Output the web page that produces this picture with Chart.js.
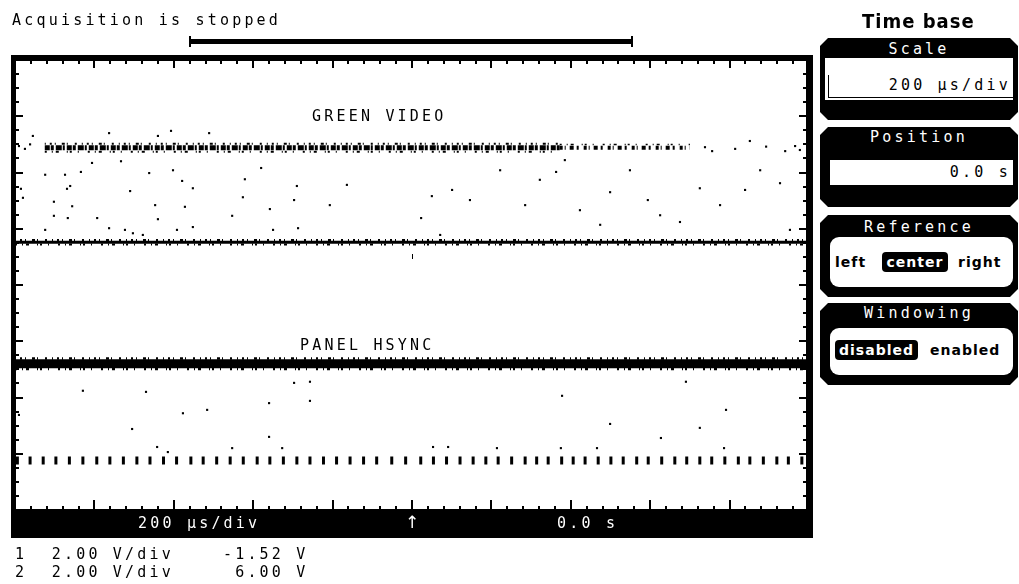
<!DOCTYPE html>
<html>
<head>
<meta charset="utf-8">
<script src="https://cdn.jsdelivr.net/npm/chart.js@4.4.1/dist/chart.umd.min.js"></script>
<style>
  html, body { margin: 0; padding: 0; background: #fff; }
  #scope { position: relative; width: 1019px; height: 584px; overflow: hidden; }
  #scope canvas { position: absolute; left: 0; top: 0; }
  .t { position: absolute; font: 15px "DejaVu Sans Mono", monospace; letter-spacing: 3.2px; line-height: 16px; white-space: pre; color: #000; }
  .w { color: #fff; }
  .bar { position: absolute; background: #000; }
  .box { position: absolute; left: 820px; width: 198px; background: #000;
    clip-path: polygon(8px 0, calc(100% - 8px) 0, 100% 8px, 100% calc(100% - 8px), calc(100% - 8px) 100%, 8px 100%, 0 calc(100% - 8px), 0 8px); }
  .box .ttl { position: absolute; left: 0; right: 0; text-align: center; color: #fff; }
  .inner { position: absolute; background: #fff; }
  .opt { position: absolute; font: bold 14px "DejaVu Sans", sans-serif; letter-spacing: 1px; line-height: 20px; white-space: pre; color: #000; }
  .pill { background: #000; color: #fff; border-radius: 4px; text-align: center; }
  .title { position: absolute; left: 862px; top: 9px; font: bold 20px "DejaVu Sans Condensed", "DejaVu Sans", sans-serif; letter-spacing: 1px; line-height: 24px; }
  .arrow { position: absolute; left: 405px; top: 512px; font: 17px "DejaVu Sans", sans-serif; line-height: 20px; color: #fff; }
</style>
</head>
<body>
<div id="scope">
  <canvas id="chart" width="1019" height="584"></canvas>

  <div class="t" style="left:12px; top:12px;">Acquisition is stopped</div>
  <div class="bar" style="left:190px; top:39px; width:442px; height:5px;"></div>
  <div class="bar" style="left:189px; top:36px; width:2px; height:11px;"></div>
  <div class="bar" style="left:631px; top:36px; width:2px; height:11px;"></div>

  <div class="t" style="left:312px; top:108px;">GREEN VIDEO</div>
  <div class="t" style="left:300px; top:337px;">PANEL HSYNC</div>

  <div class="t w" style="left:138px; top:515px;">200 µs/div</div>
  <div class="arrow">↑</div>
  <div class="t w" style="left:557px; top:515px;">0.0 s</div>

  <div class="t" style="left:15px; top:546px;">1  2.00 V/div    -1.52 V</div>
  <div class="t" style="left:15px; top:564px;">2  2.00 V/div     6.00 V</div>

  <div class="title">Time base</div>

  <div class="box" style="top:38px; height:82px;">
    <div class="t ttl" style="top:3px;">Scale</div>
    <div class="inner" style="left:5px; top:20px; width:188px; height:42px;"></div>
    <div style="position:absolute; left:8px; top:37px; width:185px; height:22px; border-left:1px solid #000; border-bottom:1px solid #000;"></div>
    <div class="t" style="right:7px; top:39px;">200 µs/div</div>
  </div>

  <div class="box" style="top:127px; height:80px;">
    <div class="t ttl" style="top:2px;">Position</div>
    <div class="inner" style="left:10px; top:33px; width:183px; height:25px;"></div>
    <div class="t" style="right:7px; top:37px;">0.0 s</div>
  </div>

  <div class="box" style="top:215px; height:82px;">
    <div class="t ttl" style="top:4px;">Reference</div>
    <div class="inner" style="left:10px; top:22px; width:183px; height:50px; border-radius:9px;"></div>
    <div class="opt" style="left:15px; top:37px;">left</div>
    <div class="opt pill" style="left:62px; top:37px; width:66px; height:20px;">center</div>
    <div class="opt" style="left:138px; top:37px;">right</div>
  </div>

  <div class="box" style="top:303px; height:82px;">
    <div class="t ttl" style="top:2px;">Windowing</div>
    <div class="inner" style="left:10px; top:25px; width:183px; height:47px; border-radius:9px;"></div>
    <div class="opt pill" style="left:15px; top:37px; width:83px; height:20px;">disabled</div>
    <div class="opt" style="left:110px; top:37px;">enabled</div>
  </div>
</div>

<script>
// time axis: 200 us/div, 10 divisions, centred on 0.0 s; level axis in divisions
const timeRangeUs = [-1000, 1000];
const levelRangeDiv = [-4, 4];

// channel 1: GREEN VIDEO
const greenHighLevel = 2.44;
const greenHighDenseUs = [-925, 372];
const greenHighBrokenUs = [372, 700];
const greenHighSparse = [[738, 2.45], [756, 2.38], [814, 2.42], [851, 2.56], [892, 2.46], [940, 2.38], [965, 2.47], [977, 2.40], [-990, 2.47], [-975, 2.42], [-962, 2.50]];
const greenLowLevel = 0.76;
const greenDots = [
  [-955, 2.65], [-763, 2.70], [-640, 2.65], [-607, 2.74], [-511, 2.70], [-924, 1.96], [-874, 1.96],
  [-834, 2.01], [-806, 2.17], [-733, 2.20], [-662, 1.99], [-602, 2.04], [-579, 1.85], [-552, 1.72],
  [-710, 1.67], [-861, 1.76], [-869, 1.71], [-985, 1.71], [-980, 1.55], [-902, 1.48], [-856, 1.40],
  [-647, 1.42], [-572, 1.39], [-426, 1.56], [-421, 1.88], [-380, 2.08], [-358, 1.35], [-297, 1.51],
  [-290, 1.76], [-902, 1.23], [-867, 1.19], [-793, 1.19], [-640, 1.17], [-453, 1.23], [-924, 0.98],
  [-763, 1.01], [-723, 0.98], [-703, 0.92], [-678, 0.89], [-592, 0.98], [-552, 1.03], [-350, 0.98],
  [-287, 1.01], [-207, 1.42], [-164, 1.78], [23, 1.19], [50, 1.58], [101, 1.69], [146, 1.51],
  [222, 2.04], [285, 1.42], [322, 1.87], [363, 2.01], [423, 1.33], [474, 1.07], [499, 1.65],
  [549, 2.04], [594, 1.51], [625, 1.24], [675, 1.12], [725, 1.72], [776, 1.42], [839, 1.69],
  [877, 2.04], [927, 1.81], [952, 0.98], [385, 2.22], [71, 0.89]
];

// channel 2: PANEL HSYNC
const hsyncLevel = -1.40;
const hsyncPulseLevel = -3.12;
const hsyncPulseUs = [
  -994, -962, -929, -897, -863, -829, -794, -761, -727, -693, -660, -626, -593, -557, -526,
  -492, -458, -425, -390, -358, -324, -290, -257, -223, -190, -156, -122, -89, -51, -16,
  22, 54, 87, 121, 154, 186, 217, 251, 285, 314, 343, 377, 406, 436, 469, 501, 532, 566,
  595, 629, 662, 692, 725, 755, 788, 822, 851, 885, 919, 948, 982
];
const hsyncDots = [
  [-829, -1.88], [-670, -1.90], [-360, -2.10], [-257, -2.06], [-577, -2.28], [-516, -2.22],
  [-705, -2.56], [-360, -2.70], [-642, -2.88], [-615, -2.97], [-453, -2.90], [-327, -2.90],
  [-297, -1.74], [-257, -1.72], [-990, -2.31], [378, -1.97], [690, -1.72], [791, -2.22],
  [499, -2.47], [725, -2.54], [627, -2.72], [53, -2.88], [91, -2.88], [214, -2.90],
  [375, -2.90], [466, -2.90], [786, -2.90]
];

const pts = list => list.map(([x, y]) => ({ x, y }));
const level = (range, y) => [{ x: range[0], y }, { x: range[1], y }];

// uneven dash patterns give the noisy edge of a persistence trace
const speckleA = [1, 4, 2, 3, 1, 6, 3, 2, 1, 7, 2, 5];
const speckleB = [2, 5, 1, 3, 3, 8, 1, 2, 2, 6, 1, 9];

function trace(data, width, dash) {
  return {
    data, showLine: true, pointRadius: 0, borderColor: '#000', borderWidth: width,
    borderDash: dash || [], borderCapStyle: 'butt', tension: 0
  };
}
function dots(data) {
  return {
    data, showLine: false, pointStyle: 'rect', pointRadius: 1.5, pointBorderWidth: 0,
    pointBackgroundColor: '#000'
  };
}

const datasets = [
  trace(level(greenHighDenseUs, greenHighLevel), 5, [5, 1, 3, 2, 6, 1, 2, 2]),
  trace(level(greenHighDenseUs, greenHighLevel + 0.07), 2, speckleA),
  trace(level(greenHighDenseUs, greenHighLevel - 0.07), 2, speckleB),
  trace(level(greenHighBrokenUs, greenHighLevel), 4, [3, 2, 1, 4, 4, 3, 2, 5]),
  trace(level(greenHighBrokenUs, greenHighLevel + 0.06), 1.5, speckleB),
  dots(pts(greenHighSparse)),
  trace(level(timeRangeUs, greenLowLevel), 3),
  trace(level(timeRangeUs, greenLowLevel + 0.04), 2, speckleA),
  trace(level(timeRangeUs, greenLowLevel - 0.04), 2, speckleB),
  dots(pts(greenDots)),
  trace(level(timeRangeUs, hsyncLevel), 9),
  trace(level(timeRangeUs, hsyncLevel + 0.095), 2.5, speckleA),
  trace(level(timeRangeUs, hsyncLevel - 0.095), 2.5, speckleB),
  dots(pts(hsyncDots)),
  {
    data: hsyncPulseUs.map(x => ({ x, y: hsyncPulseLevel })), showLine: false,
    pointStyle: 'line', rotation: 90, pointRadius: 4, pointBorderWidth: 3,
    pointBorderColor: '#000'
  }
];

// graticule frame, edge ticks and the bottom status bar
const scopeFrame = {
  id: 'scopeFrame',
  afterDatasetsDraw(chart) {
    const { ctx, chartArea: a, scales: { x, y } } = chart;
    ctx.save();
    ctx.fillStyle = '#000';
    const w = a.right - a.left;
    ctx.fillRect(a.left - 4, a.top - 5, w + 8, 6);
    ctx.fillRect(a.left - 4, a.top - 5, 5, a.bottom - a.top + 33);
    ctx.fillRect(a.right - 3, a.top - 5, 7, a.bottom - a.top + 33);
    ctx.fillRect(a.left - 4, a.bottom - 1, w + 8, 29);

    for (let t = timeRangeUs[0] + 40; t < timeRangeUs[1]; t += 40) {
      const px = Math.round(x.getPixelForValue(t)) - 1;
      const major = t % 200 === 0;
      ctx.fillRect(px, a.top + 1, 2, major ? 7 : 3);
      ctx.fillRect(px, a.bottom - 1 - (major ? 9 : 3), 2, major ? 9 : 3);
    }
    for (let v = levelRangeDiv[0] + 0.25; v < levelRangeDiv[1]; v += 0.25) {
      const py = Math.round(y.getPixelForValue(v)) - 1;
      const len = Number.isInteger(v) ? 7 : 3;
      ctx.fillRect(a.left + 1, py, len, 2);
      ctx.fillRect(a.right - 3 - len, py, len, 2);
    }
    // centre marker
    const cx = Math.round(x.getPixelForValue(0));
    ctx.fillRect(cx, Math.round(y.getPixelForValue(0.55)), 1, 5);
    ctx.restore();
  }
};

new Chart(document.getElementById('chart'), {
  type: 'scatter',
  data: { datasets },
  options: {
    responsive: false,
    animation: false,
    events: [],
    layout: { padding: { left: 15, right: 210, top: 60, bottom: 74 } },
    plugins: { legend: { display: false }, tooltip: { enabled: false } },
    scales: {
      x: { type: 'linear', min: timeRangeUs[0], max: timeRangeUs[1], display: false },
      y: { type: 'linear', min: levelRangeDiv[0], max: levelRangeDiv[1], display: false }
    }
  },
  plugins: [scopeFrame]
});
</script>
</body>
</html>
